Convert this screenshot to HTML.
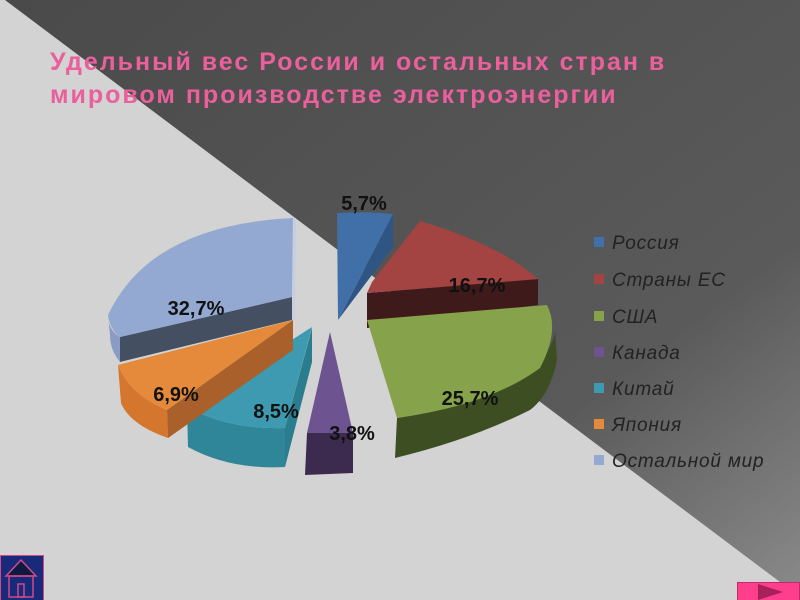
<!DOCTYPE html>
<html><head><meta charset="utf-8"><style>
body{margin:0;width:800px;height:600px;overflow:hidden;background:#d3d3d3;font-family:"Liberation Sans",sans-serif}
svg{position:absolute;left:0;top:0}
</style></head><body>
<svg width="800" height="600" viewBox="0 0 800 600">
<defs><linearGradient id="dk" x1="0" y1="0" x2="1" y2="1"><stop offset="0" stop-color="#4a4a4a"/><stop offset="0.7" stop-color="#5a5a5a"/><stop offset="1" stop-color="#8a8a8a"/></linearGradient></defs>
<rect width="800" height="600" fill="#d3d3d3"/>
<polygon points="5,0 800,0 800,597" fill="url(#dk)"/>
<g font-family="Liberation Sans, DejaVu Sans, sans-serif" font-weight="bold" font-size="25" fill="#ea5f9c" letter-spacing="2">
<text x="50" y="70">Удельный вес России и остальных стран в</text>
<text x="50" y="103">мировом производстве электроэнергии</text>
</g>
<!-- Other world -->
<path d="M120,337 L292,297 L292,320 L120,362 Z" fill="#454f62"/>
<path d="M108,315 Q108,330 120,337 L120,362 Q110,350 110,335 Z" fill="#8a9cc4"/>
<path d="M293,218 Q150,225 108,315 Q110,330 120,337 L292,297 Z" fill="#93a9d2"/>
<path d="M293,218 L296,218 L295,320 L292,320 Z" fill="#c6cfe0"/>
<!-- Russia -->
<path d="M393,214 L393,247 L338,320 Z" fill="#2f5585"/>
<path d="M337,213 Q365,211 393,214 L338,320 Z" fill="#4170a8"/>
<!-- EU -->
<path d="M367,293 L538,279 L538,305 L367,328 Z" fill="#3f1a1a"/>
<path d="M372,282 L420,221 Q500,245 538,279 L367,293 Z" fill="#a44442"/>
<!-- USA -->
<path d="M397,418 Q480,405 530,375 Q555,345 555,330 L557,360 Q550,395 530,410 Q470,440 395,458 Z" fill="#3d4e22"/>
<path d="M367,320 L547,305 Q560,330 540,368 Q490,405 397,418 Z" fill="#86a24a"/>
<!-- Canada -->
<path d="M307,433 L353,433 L353,473 L305,475 Z" fill="#3d2a4f"/>
<path d="M330,332 L353,433 L307,433 Z" fill="#6d5490"/>
<!-- China -->
<path d="M285,428 L312,328 L312,362 L285,467 Z" fill="#2a7d8f"/>
<path d="M187,407 Q230,430 285,428 L285,467 Q230,470 188,447 Z" fill="#2f8699"/>
<path d="M312,327 L187,407 Q230,430 285,428 Z" fill="#3d9ab0"/>
<!-- Japan -->
<path d="M118,365 Q130,395 167,410 L168,438 Q130,425 121,403 Z" fill="#d5762e"/>
<path d="M293,320 L167,410 L168,438 L293,350 Z" fill="#a9602a"/>
<path d="M293,320 L118,365 Q130,395 167,410 Z" fill="#e48a3a"/>
<g font-family="Liberation Sans, sans-serif" font-weight="bold" font-size="20" fill="#111" text-anchor="middle">
<text x="364" y="210">5,7%</text>
<text x="477" y="292">16,7%</text>
<text x="470" y="405">25,7%</text>
<text x="352" y="440">3,8%</text>
<text x="276" y="418">8,5%</text>
<text x="176" y="401">6,9%</text>
<text x="196" y="315">32,7%</text>
</g>
<g font-family="Liberation Sans, sans-serif" font-style="italic" font-size="19" fill="#222" letter-spacing="0.8">
<rect x="594" y="237" width="10" height="10" fill="#4170a8"/><text x="612" y="249">Россия</text>
<rect x="594" y="274" width="10" height="10" fill="#a44442"/><text x="612" y="286">Страны ЕС</text>
<rect x="594" y="311" width="10" height="10" fill="#86a24a"/><text x="612" y="323">США</text>
<rect x="594" y="347" width="10" height="10" fill="#6d5490"/><text x="612" y="359">Канада</text>
<rect x="594" y="383" width="10" height="10" fill="#3d9ab0"/><text x="612" y="395">Китай</text>
<rect x="594" y="419" width="10" height="10" fill="#e48a3a"/><text x="612" y="431">Япония</text>
<rect x="594" y="455" width="10" height="10" fill="#93a9d2"/><text x="612" y="467">Остальной мир</text>
</g>
<rect x="0.5" y="555.5" width="43" height="45" fill="#1a2a7a" stroke="#d04a8a"/>
<path d="M6,576 L21,560 L36,576 Z" fill="#0f1a40" stroke="#d04a8a" stroke-width="1.5"/>
<rect x="9" y="576" width="24" height="21" fill="none" stroke="#d04a8a" stroke-width="1.5"/>
<rect x="18" y="584" width="6" height="13" fill="none" stroke="#d04a8a" stroke-width="1.5"/>
<rect x="737.5" y="582.5" width="62" height="18" fill="#ff3e8e" stroke="#c02a6a"/>
<path d="M758,584 L783,592 L758,600 Z" fill="#a8205a"/>
</svg>
</body></html>
